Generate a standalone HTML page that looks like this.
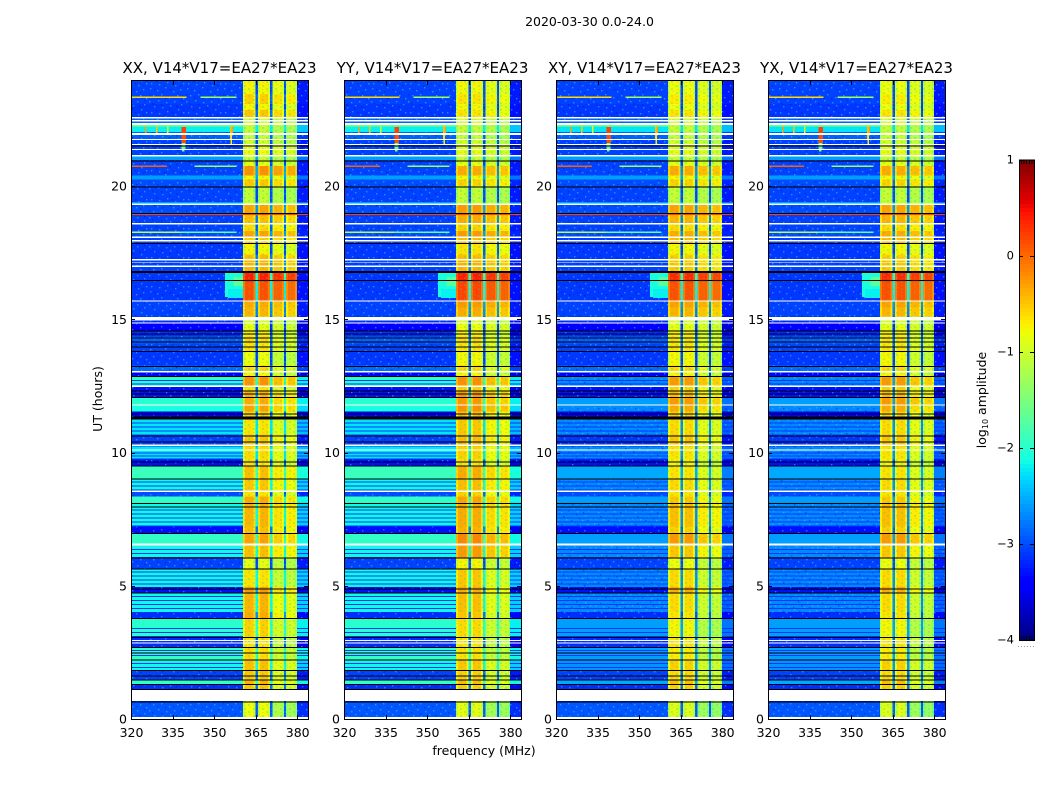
<!DOCTYPE html>
<html lang="en">
<head>
<meta charset="utf-8">
<title>2020-03-30 0.0-24.0</title>
<style>
html,body{margin:0;padding:0;background:#fff;}
#chart{display:block;width:1050px;height:800px;}
text{font-family:"DejaVu Sans","Liberation Sans",sans-serif;fill:#000;}
</style>
</head>
<body>
<svg id="chart" xmlns="http://www.w3.org/2000/svg" width="1050" height="800" viewBox="0 0 1050 800">
<defs>
<pattern id="speckle" x="0" y="0" width="37" height="29" patternUnits="userSpaceOnUse">
<g fill="#40c8ff" fill-opacity=".55">
<rect x="2" y="1" width="1.4" height="1.4"/><rect x="9" y="3" width="1.4" height="1.4"/><rect x="17" y="0" width="1.4" height="1.4"/>
<rect x="25" y="4" width="1.4" height="1.4"/><rect x="32" y="2" width="1.4" height="1.4"/><rect x="5" y="8" width="1.4" height="1.4"/>
<rect x="13" y="7" width="1.4" height="1.4"/><rect x="21" y="10" width="1.4" height="1.4"/><rect x="29" y="8" width="1.4" height="1.4"/>
<rect x="35" y="11" width="1.4" height="1.4"/><rect x="1" y="14" width="1.4" height="1.4"/><rect x="10" y="13" width="1.4" height="1.4"/>
<rect x="18" y="15" width="1.4" height="1.4"/><rect x="26" y="14" width="1.4" height="1.4"/><rect x="33" y="17" width="1.4" height="1.4"/>
<rect x="6" y="19" width="1.4" height="1.4"/><rect x="14" y="20" width="1.4" height="1.4"/><rect x="22" y="18" width="1.4" height="1.4"/>
<rect x="30" y="22" width="1.4" height="1.4"/><rect x="3" y="25" width="1.4" height="1.4"/><rect x="11" y="26" width="1.4" height="1.4"/>
<rect x="19" y="24" width="1.4" height="1.4"/><rect x="27" y="27" width="1.4" height="1.4"/><rect x="35" y="25" width="1.4" height="1.4"/>
</g>
<g fill="#0008a0" fill-opacity=".4">
<rect x="6" y="2" width="1.4" height="1.4"/><rect x="14" y="4" width="1.4" height="1.4"/><rect x="22" y="2" width="1.4" height="1.4"/>
<rect x="29" y="5" width="1.4" height="1.4"/><rect x="1" y="7" width="1.4" height="1.4"/><rect x="9" y="10" width="1.4" height="1.4"/>
<rect x="17" y="11" width="1.4" height="1.4"/><rect x="25" y="10" width="1.4" height="1.4"/><rect x="33" y="13" width="1.4" height="1.4"/>
<rect x="4" y="16" width="1.4" height="1.4"/><rect x="13" y="17" width="1.4" height="1.4"/><rect x="21" y="21" width="1.4" height="1.4"/>
<rect x="28" y="19" width="1.4" height="1.4"/><rect x="8" y="23" width="1.4" height="1.4"/><rect x="16" y="27" width="1.4" height="1.4"/>
<rect x="24" y="25" width="1.4" height="1.4"/><rect x="32" y="27" width="1.4" height="1.4"/>
</g>
</pattern>
<pattern id="weave" x="0" y="0" width="9" height="7" patternUnits="userSpaceOnUse">
<rect x="1" y="1" width="2" height="2" fill="#30d080" fill-opacity=".28"/>
<rect x="5" y="4" width="2" height="2" fill="#30d080" fill-opacity=".28"/>
<rect x="6" y="0" width="2" height="1" fill="#ff9000" fill-opacity=".25"/>
<rect x="1" y="5" width="2" height="1" fill="#ff9000" fill-opacity=".25"/>
</pattern>
</defs>
<rect x="0" y="0" width="1050" height="800" fill="#fff"/>
<text x="589.5" y="26" font-size="12.5" text-anchor="middle">2020-03-30 0.0-24.0</text>
<g id="panels"></g>
<text x="484" y="755" font-size="12.5" text-anchor="middle">frequency (MHz)</text>
<text transform="translate(102,399) rotate(-90)" font-size="12.5" text-anchor="middle">UT (hours)</text>
<g id="colorbar"></g>
<text transform="translate(986,400) rotate(-90)" font-size="12.5" text-anchor="middle">log<tspan font-size="8" dy="2">10</tspan><tspan dy="-2"> amplitude</tspan></text>
</svg>
<script>
// ---------- categories and tick labels ----------
const panelTitles = ["XX, V14*V17=EA27*EA23","YY, V14*V17=EA27*EA23","XY, V14*V17=EA27*EA23","YX, V14*V17=EA27*EA23"];
const freqTicks = [320,335,350,365,380];
const utTicks = [0,5,10,15,20];
const colorTicks = [1,0,-1,-2,-3,-4];

// ---------- time bands (UT hours, descending) ----------
const bandEdges = [
24,23.46,23.08,22.86,22.59,22.29,22.03,21.77,21.54,21.13,
20.98,20.75,20.41,20.26,20.0,19.4,19.32,18.95,18.61,18.31,
18.12,17.86,17.44,17.26,16.8,16.43,15.71,15.45,15.11,14.85,
14.55,14.36,14.1,13.8,13.27,13.05,12.86,12.48,12.29,12.07,
11.8,11.54,11.28,10.68,10.23,9.74,9.51,9.02,8.57,8.35,
8.12,7.22,6.96,6.58,6.05,5.64,4.96,4.74,4.02,3.8,
3.05,2.71,2.22,1.84,1.47,1.32,1.09,0.64,0];

// log10 amplitude outside the bright windows: parallel hands (XX, YY)
const lowPar = [
-3.05,-3.05,-3.1,-3.1,-2.9,-2.2,-2.9,-3.05,-3.05,-2.6,
-3.05,-3.05,-2.6,-3,-3.05,-2.6,-3,-3.05,-3.05,-3,
-3.05,-3.1,-3.1,-3.05,-3.1,-3.1,-3.05,-3.05,-3.15,-3.4,
-3.15,-2.9,-3.05,-3.1,-2.85,-3.4,-2.0,-3.3,-3.3,-2.0,
-2.1,-3.4,-2.25,-3.05,-2.25,-3.3,-1.9,-2.15,-3,-1.95,
-2.15,-3.3,-1.95,-2.15,-3.05,-2.15,-3.3,-2.15,-3.15,-2.0,
-3.15,-1.95,-2.15,-3.05,-1.95,-3.15,-3.2,-2.95];
// log10 amplitude outside the bright windows: cross hands (XY, YX)
const lowCross = [
-3.05,-3.05,-3.1,-3.1,-2.9,-2.25,-2.9,-3.05,-3.05,-2.6,
-3.05,-3.05,-2.6,-3,-3.05,-2.6,-3,-3.05,-3.05,-3,
-3.05,-3.1,-3.1,-3.05,-3.1,-3.1,-3.05,-3.05,-3.15,-3.4,
-3.15,-2.9,-3.05,-3.1,-2.85,-3.4,-2.7,-3.3,-3.3,-2.6,
-2.7,-3.4,-2.7,-3.1,-2.7,-3.3,-2.55,-2.7,-3,-2.6,
-2.7,-3.3,-2.6,-2.7,-3.05,-2.7,-3.3,-2.7,-3.15,-2.6,
-3.15,-2.6,-2.65,-3.05,-2.55,-3.15,-3.2,-2.95];

// log10 amplitude inside the bright windows
const highXX = [
-.7,-.5,-.7,-.45,-.9,-1,-1,-.95,-.75,-1,
-.8,-.15,-.7,-.45,-1,-1,-.25,-.4,-.55,-.25,
-.5,-.7,-.4,-.35,.45,.2,-.3,-.35,-.9,-.8,
-.65,-.55,-.6,-.75,-.55,-.7,-.15,-.6,-.35,-.3,
-.25,-.5,-.6,-.45,-.55,-.6,-.4,-.45,-.6,-.3,
-.35,-.4,-.25,-.4,-.8,-.6,-.2,-.35,-.3,-.5,
-.6,-.55,-.4,-.45,-.35,-.45,-.7,-.75];
const highYY = [
-.7,-.6,-.7,-.6,-.9,-1,-1,-.95,-.8,-1,
-.8,-.3,-.7,-.5,-1,-1,-.2,-.3,-.5,-.2,
-.4,-.6,-.4,-.35,.45,.25,-.2,-.3,-.9,-.75,
-.65,-.55,-.6,-.7,-.55,-.7,-.15,-.5,-.2,-.2,
-.15,-.4,-.45,-.4,-.5,-.6,-.3,-.4,-.5,-.25,
-.3,-.35,-.1,-.2,-.7,-.45,-.3,-.4,-.45,-.55,
-.6,-.6,-.45,-.5,-.4,-.5,-.7,-.8];
const highCross = [
-.75,-.65,-.75,-.6,-.9,-1,-1,-.95,-.8,-1,
-.8,-.3,-.7,-.5,-1,-1,-.25,-.35,-.55,-.3,
-.4,-.7,-.5,-.45,.4,.2,-.25,-.35,-.9,-.8,
-.65,-.6,-.6,-.7,-.55,-.7,-.2,-.5,-.4,-.2,
-.3,-.5,-.55,-.45,-.6,-.7,-.6,-.55,-.6,-.45,
-.4,-.5,-.2,-.45,-.75,-.55,-.3,-.55,-.6,-.7,
-.6,-.65,-.5,-.55,-.4,-.5,-.7,-.85];
// extra drop of the two upper-frequency windows in each band
const bandTilt = [
0,0,0,0,0,0,0,0,0,0,
0,0,0,0,0,0,0,0,0,0,
0,0,0,0,0,0,0,0,0,0,
.15,.15,.15,.15,.15,.15,.15,.15,.15,.15,
.15,.15,.15,.15,.15,.15,.15,.15,.15,.15,
.15,.15,.15,.15,.15,.3,.3,.3,.3,.3,
.3,.3,.3,.3,.3,.3,.3,.3];

// ---------- frequency structure (MHz) ----------
const channelStart  = [320,360.5,361.2,364.3,365,365.8,366.5,369.5,370.2,371,371.7,374.5,375.2,376,376.7,379.2,379.9];
const channelEnd    = [360.5,361.2,364.3,365,365.8,366.5,369.5,370.2,371,371.7,374.5,375.2,376,376.7,379.2,379.9,384];
const channelRole   = ["low","high","high","high","gap","high","high","high","gap","high","high","high","gap","high","high","high","right"];
const channelOffset = [0,-.3,-.05,-.3,0,-.3,-.05,-.3,0,-.35,-.15,-.35,0,-.4,-.2,-.4,0];
const channelTilted = [0,0,0,0,0,0,0,0,0,1,1,1,0,1,1,1,0];

// ---------- thin darker scan lines in the low channels (UT) ----------
const dipLines = [12.73,12.59,11.13,10.98,10.83,10.0,9.89,9.77,8.91,8.76,8.61,7.86,7.71,7.56,7.41,7.26,6.39,6.24,6.09,5.53,5.38,5.23,5.08,4.62,4.47,4.32,4.17,3.42,3.27,3.12,2.59,2.41,2.11,1.95];
const dipValues = [-3.1,-3.1,-3.1,-3.1,-3.1,-3.1,-3.1,-3.1,-3.1,-3.1,-3.1,-3.1,-3.1,-3.1,-3.1,-3.1,-3.1,-3.1,-3.1,-3.1,-3.1,-3.1,-3.1,-3.1,-3.1,-3.1,-3.1,-3.1,-3.1,-3.1,-3.1,-3.1,-3.1,-3.1];

// ---------- interference features ----------
const patchUtTop    = [16.78,16.6,16.15,23.36,23.36,20.77,20.77,18.98,18.3,18.3,22.29,22.29,22.22,21.95,21.62,22.25,22.25,22.25,22.25,21.95,22.25];
const patchUtBottom = [15.85,16.25,15.8,23.31,23.31,20.72,20.72,18.91,18.25,18.25,22.25,21.4,21.95,21.62,21.3,21.9,21.75,21.95,21.95,21.55,21.95];
const patchFreqLow  = [354,357,355,320,345,320,343,320,320,338,320,338.2,338.2,338.2,338.4,356.2,355.8,325,329,356,333];
const patchFreqHigh = [360.5,360.5,360.5,340,358,333,358,384,345,358,360.5,339.6,339.8,339.8,339.4,356.8,356.3,325.6,329.6,356.4,333.6];
const patchValue    = [-2.1,-1.7,-2.2,-.6,-1.3,.05,-1.3,.2,-1.1,-1.6,-1.5,-1.7,.2,.15,-1.5,-.3,-.5,-.3,-.5,-.7,-.9];

// ---------- flagged integrations ----------
const whiteTop = [22.59,22.48,22.37,21.99,21.77,21.58,21.39,21.17,19.36,18.61,18.12,17.99,17.26,17.14,17.03,15.71,15.09,14.89,13.06,12.52,11.8,10.3,10.11,8.57,6.58,2.97,2.88,1.09,0.075];
const whiteBottom = [22.55,22.42,22.29,21.93,21.73,21.54,21.35,21.11,19.3,18.57,18.06,17.93,17.22,17.11,16.97,15.68,14.96,14.85,13.01,12.46,11.77,10.24,10.08,8.52,6.52,2.93,2.84,0.68,0];
const blackLines = [21.52,20.96,19.98,19.0,17.86,16.82,16.78,16.47,14.59,14.47,14.32,14.17,13.98,13.81,13.26,12.87,12.33,12.22,12.09,11.47,11.35,11.32,11.28,10.65,10.42,9.67,9.52,9.03,8.11,7.98,6.98,6.06,5.65,4.89,4.75,3.8,3.07,2.71,2.49,2.24,1.84,1.63,1.48,1.32,1.12,0.65];

// ---------- layout ----------
const SVGNS = "http://www.w3.org/2000/svg";
const panelLeft = [131,344,556,768];
const plotW = 177, plotTop = 81, plotBottom = 719;
const pxPerHour = 26.64;
const lowByPanel = [lowPar,lowPar,lowCross,lowCross];
const highByPanel = [highXX,highYY,highCross,highCross];
const vmin = -4, vmax = 1;

// ---------- axis functions ----------
function xScale(freq, left){ return left + (freq - 320) * (plotW / 63.9); }
function yScale(ut){ return Math.max(plotTop, plotBottom - ut * pxPerHour); }
function cbScale(v){ return 160 + (vmax - v) * 96; }

function lerp(a,b,t){ return a + (b-a)*t; }
function ramp(stops, t){
  for (let i=1;i<stops.length;i++){
    if (t<=stops[i][0]) return lerp(stops[i-1][1],stops[i][1],(t-stops[i-1][0])/(stops[i][0]-stops[i-1][0]));
  }
  return stops[stops.length-1][1];
}
function jet(v){
  const t = Math.max(0, Math.min(1, (v - vmin) / (vmax - vmin)));
  const r = ramp([[0,0],[.35,0],[.66,1],[.89,1],[1,.5]], t);
  const g = ramp([[0,0],[.125,0],[.375,1],[.64,1],[.91,0],[1,0]], t);
  const b = ramp([[0,.5],[.11,1],[.34,1],[.65,0],[1,0]], t);
  return "rgb("+Math.round(r*255)+","+Math.round(g*255)+","+Math.round(b*255)+")";
}

function addRect(parent,x,y,w,h,fill,name){
  const el = document.createElementNS(SVGNS,"rect");
  el.setAttribute("x",x.toFixed(2));
  el.setAttribute("y",y.toFixed(2));
  el.setAttribute("width",w.toFixed(2));
  el.setAttribute("height",h.toFixed(2));
  el.setAttribute("fill",fill);
  el.setAttribute("shape-rendering","crispEdges");
  
  
  parent.appendChild(el);
  return el;
}
function addLine(parent,x1,y1,x2,y2,name){
  const el = document.createElementNS(SVGNS,"line");
  el.setAttribute("x1",x1);
  el.setAttribute("y1",y1);
  el.setAttribute("x2",x2);
  el.setAttribute("y2",y2);
  el.setAttribute("stroke","#000");
  el.setAttribute("stroke-width","1");
  
  
  parent.appendChild(el);
}
function addText(parent,x,y,str,size,anchor,name){
  const el = document.createElementNS(SVGNS,"text");
  el.setAttribute("x",x);
  el.setAttribute("y",y);
  el.setAttribute("font-size",size);
  el.setAttribute("text-anchor",anchor);
  el.textContent = str;
  
  
  parent.appendChild(el);
}
function addGroup(parent,name){
  const el = document.createElementNS(SVGNS,"g");
  
  
  parent.appendChild(el);
  return el;
}

function channelValue(c, low, high, tilt){
  const role = channelRole[c];
  if (role === "low") return low;
  if (role === "right") return low - 0.2;
  if (role === "gap") return Math.max(low, high - 2.4);
  return high + channelOffset[c] - (channelTilted[c] ? tilt : 0);
}

function drawPanel(p){
  const left = panelLeft[p];
  const g = addGroup(document.getElementById("panels"), "panel-" + p);
  const low = lowByPanel[p], high = highByPanel[p];
  const sx = f => xScale(f,left);
  const lowEnd = sx(channelEnd[0]);
  const rightStart = sx(channelStart[channelStart.length-1]);
  const right = left + plotW;

  for (let b=0;b<lowPar.length;b++){
    const y0 = yScale(bandEdges[b]), y1 = yScale(bandEdges[b+1]);
    for (let c=0;c<channelStart.length;c++){
      const v = channelValue(c, low[b], high[b], bandTilt[b]);
      addRect(g, sx(channelStart[c]), y0, sx(channelEnd[c])-sx(channelStart[c]), y1-y0+0.3, jet(v), "heatmap-cell");
    }
    if (low[b] < -2.65) {
      addRect(g, left, y0, lowEnd-left, y1-y0, "url(#speckle)", "noise-overlay");
      addRect(g, rightStart, y0, right-rightStart, y1-y0, "url(#speckle)", "noise-overlay");
    }
    addRect(g, sx(channelStart[1]), y0, sx(channelEnd[15])-sx(channelStart[1]), y1-y0, "url(#weave)", "window-overlay");
  }
  dipLines.forEach((u,i)=>{
    addRect(g, left, yScale(u), lowEnd-left, 1, jet(dipValues[i]), "scan-line");
    addRect(g, rightStart, yScale(u), right-rightStart, 1, jet(dipValues[i]), "scan-line");
  });
  patchValue.forEach((v,i)=>{
    const y0 = yScale(patchUtTop[i]), y1 = yScale(patchUtBottom[i]);
    addRect(g, sx(patchFreqLow[i]), y0, sx(patchFreqHigh[i])-sx(patchFreqLow[i]), y1-y0, jet(v), "interference-patch");
  });
  whiteTop.forEach((u,i)=>{
    addRect(g, left, yScale(u), plotW, yScale(whiteBottom[i])-yScale(u), "#fff", "flagged-white-row");
  });
  blackLines.forEach(u=>{
    addRect(g, left, yScale(u), plotW, 1, "#000", "flagged-black-row");
  });

  // ticks
  freqTicks.forEach(f=>{
    const x = Math.round(sx(f)) + .5;
    addLine(g, x, plotBottom, x, plotBottom-4, "x-tick-bottom");
    addLine(g, x, plotTop, x, plotTop+4, "x-tick-top");
    addText(g, sx(f)+.5, 737, String(f), 12.5, "middle", "x-tick-label");
  });
  utTicks.forEach(u=>{
    const y = Math.round(yScale(u)) + .5;
    addLine(g, left, y, left+4, y, "y-tick-left");
    addLine(g, right, y, right-4, y, "y-tick-right");
    addText(g, left-4, yScale(u)+4.5, String(u), 12.5, "end", "y-tick-label");
  });

  // frame
  const frame = document.createElementNS(SVGNS,"rect");
  frame.setAttribute("x",left+.5);
  frame.setAttribute("y",plotTop-.5);
  frame.setAttribute("width",plotW);
  frame.setAttribute("height",plotBottom-plotTop+1);
  frame.setAttribute("fill","none");
  frame.setAttribute("stroke","#000");
  frame.setAttribute("stroke-width","1");
  
  
  g.appendChild(frame);

  addText(g, left+plotW/2, 73, panelTitles[p], 15, "middle", "panel-title");
}

function drawColorbar(){
  const g = document.getElementById("colorbar");
  const x0 = 1019, x1 = 1034;
  for (let k=0;k<120;k++){
    const v = vmax - (k+.5)*(vmax-vmin)/120;
    addRect(g, x0, cbScale(vmax - k*(vmax-vmin)/120), x1-x0, 4.3, jet(v), "colorbar-step");
  }
  colorTicks.forEach(t=>{
    const y = Math.round(cbScale(t)) + .5;
    addLine(g, x0, y, x0+4, y, "colorbar-tick");
    addLine(g, x1, y, x1-4, y, "colorbar-tick");
    addText(g, x0-5, cbScale(t)+3.5, t<0 ? "\u2212"+Math.abs(t) : String(t), 11.5, "end", "colorbar-tick-label");
  });
  for (let m=0;m<5;m++){
    addRect(g, x0+2+m*2.6, 160, 1, 4, "#000", "colorbar-minor-tick-top");
    addRect(g, x0+2+m*2.6, 636, 1, 4, "#000", "colorbar-minor-tick-bottom");
  }
  const frame = document.createElementNS(SVGNS,"rect");
  frame.setAttribute("x",x0+.5);
  frame.setAttribute("y",160);
  frame.setAttribute("width",x1-x0);
  frame.setAttribute("height",480.5);
  frame.setAttribute("fill","none");
  frame.setAttribute("stroke","#000");
  frame.setAttribute("stroke-width","1");
  
  
  g.appendChild(frame);
  for (let d=0;d<6;d++){
    addRect(g, 1018+d*3, 646, 1, 1, "#999", "colorbar-minor-dot");
  }
}

panelTitles.forEach((t,p)=>drawPanel(p));
drawColorbar();
</script>
</body>
</html>
